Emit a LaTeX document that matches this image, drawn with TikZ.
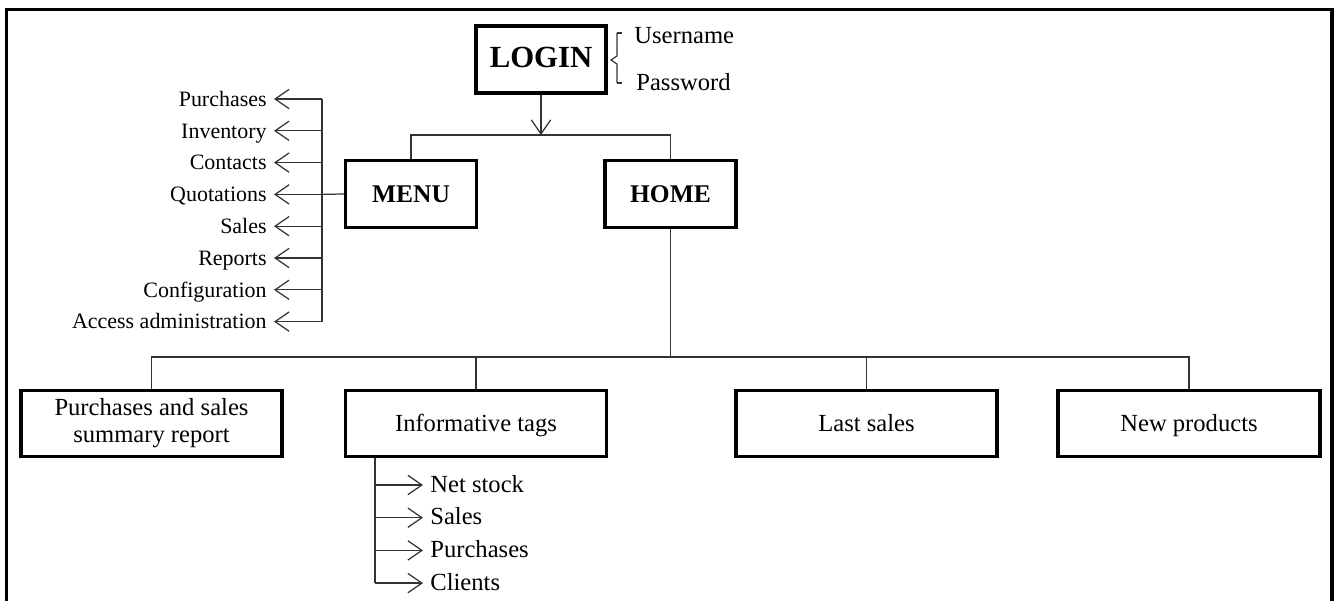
\documentclass[tikz,border=0pt]{standalone}
\usepackage{fontspec}
\setmainfont{Liberation Serif}
\usetikzlibrary{arrows.meta}

\begin{document}
\begin{tikzpicture}[x=0.02cm, y=-0.02cm,
    box/.style={draw, line width=1.9pt, inner sep=0pt, align=center, minimum width=5.22cm, minimum height=1.32cm, font=\fontsize{14}{16.5}\selectfont},
    onebox/.style={box, text height=2.1ex, text depth=0pt},
    topbox/.style={onebox, minimum width=2.62cm, minimum height=1.34cm, font=\fontsize{14.5}{16}\selectfont\bfseries},
    link/.style={draw=black!80, line width=0.7pt},
    arr/.style={link, -{Straight Barb[length=8pt, width=11pt]}},
    menuitem/.style={inner sep=4pt, text height=1.8ex, text depth=0pt, font=\fontsize{12.5}{14}\selectfont},
    tagitem/.style={inner sep=4pt, text height=1.8ex, text depth=0pt, font=\fontsize{14}{15}\selectfont}]
    \useasboundingbox (0,0) rectangle (1336,601);

    % frame, open at the bottom
    \draw[line width=1.8pt] (6.5,601) -- (6.5,9.5) -- (1332,9.5) -- (1332,601);

    % top level
    \node[topbox, minimum width=2.6cm, font=\fontsize{17.5}{19}\selectfont\bfseries] (login) at (541,59.5) {LOGIN};
    \node[topbox] (menu) at (411,194) {MENU};
    \node[topbox] (home) at (670.5,194) {HOME};

    \draw[link] (617,33) -- (617,56) -- (611,60) -- (617,64) -- (617,83);
    \draw[link] (617,33) -- (622,33);
    \draw[link] (617,83) -- (622,83);
    \node[anchor=west, inner sep=0pt, font=\fontsize{14}{15}\selectfont] (user) at (634,36) {Username};
    \node[anchor=west, inner sep=0pt, font=\fontsize{14}{15}\selectfont] (pass) at (636,82) {Password};

    \coordinate (split) at (541,135);
    \draw[arr] (login.south) -- (split);
    \draw[link] (menu.north) -- (menu.north |- split) -- (home.north |- split) -- (home.north);

    % menu entries
    \foreach \name [count=\i from 0] in {Purchases, Inventory, Contacts, Quotations, Sales, Reports, Configuration, Access administration} {
        \coordinate (mj\i) at (322,{99+31.8*\i});
        \node[menuitem, anchor=east] (m\i) at (274,{99+31.8*\i}) {\name};
        \draw[arr] (mj\i) -- (m\i);
    }
    \draw[link] (mj0) -- (mj7);
    \draw[link] (menu.west) -- (mj3);

    % home entries
    \node[box] (report) at (151.5,423.5) {Purchases and sales\\[-1pt]summary report};
    \node[onebox] (tags) at (476,423.5) {Informative tags};
    \node[onebox] (last) at (866.5,423.5) {Last sales};
    \node[onebox, minimum width=5.24cm] (new) at (1189,423.5) {New products};

    \coordinate (hsplit) at (670.5,357);
    \draw[link] (home.south) -- (hsplit);
    \draw[link] (report.north) -- (report.north |- hsplit) -- (new.north |- hsplit) -- (new.north);
    \draw[link] (tags.north) -- (tags.north |- hsplit);
    \draw[link] (last.north) -- (last.north |- hsplit);

    % informative tags
    \foreach \name [count=\i from 0] in {Net stock, Sales, Purchases, Clients} {
        \coordinate (tj\i) at (375,{485+32.7*\i});
        \node[tagitem, anchor=west] (t\i) at (423,{485+32.7*\i}) {\name};
        \draw[arr] (tj\i) -- (t\i);
    }
    \draw[link] (tags.south -| tj3) -- (tj3);
\end{tikzpicture}
\end{document}
